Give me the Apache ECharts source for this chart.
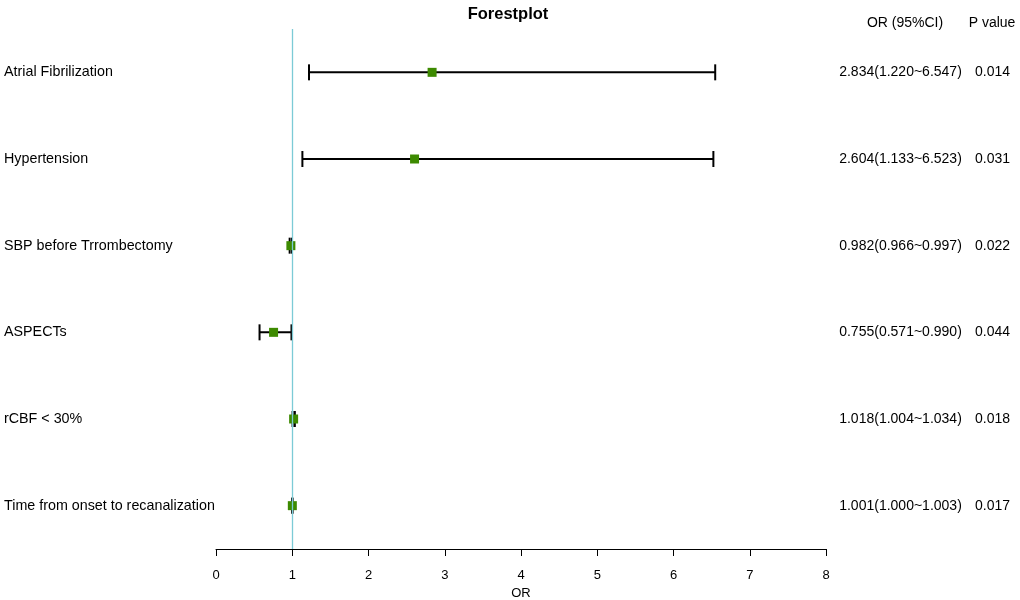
<!DOCTYPE html>
<html><head><meta charset="utf-8">
<script src="https://cdn.jsdelivr.net/npm/echarts@6/dist/echarts.min.js"></script>
<style>html,body{margin:0;padding:0;background:#fff}#c{width:1020px;height:600px}</style>
</head><body><div id="c"></div>
<script>
const variables = ['Atrial Fibrilization','Hypertension','SBP before Trrombectomy','ASPECTs','rCBF < 30%','Time from onset to recanalization'];
const orValues = [2.834, 2.604, 0.982, 0.755, 1.018, 1.001];
const lowerCI = [1.220, 1.133, 0.966, 0.571, 1.004, 1.000];
const upperCI = [6.547, 6.523, 0.997, 0.990, 1.034, 1.003];
const orText = ['2.834(1.220~6.547)','2.604(1.133~6.523)','0.982(0.966~0.997)','0.755(0.571~0.990)','1.018(1.004~1.034)','1.001(1.000~1.003)'];
const pText = ['0.014','0.031','0.022','0.044','0.018','0.017'];
const xTicks = [0,1,2,3,4,5,6,7,8];

const FONT = '"Liberation Sans", Arial, sans-serif';
const chart = echarts.init(document.getElementById('c'));
chart.setOption({
  backgroundColor:'#fff',
  animation:false,
  title:{text:'Forestplot',left:503,top:1,textAlign:'center',textStyle:{fontFamily:FONT,fontSize:16.5,fontWeight:'bold',color:'#000'}},
  grid:{left:216,right:194,top:29,bottom:51,containLabel:false,outerBoundsMode:'none'},
  xAxis:{type:'value',min:xTicks[0],max:xTicks[xTicks.length-1],interval:1,
    name:'OR',nameLocation:'middle',nameGap:37,nameTextStyle:{fontFamily:FONT,fontSize:13,color:'#000'},
    axisLine:{show:true,onZero:false,lineStyle:{color:'#000',width:1}},
    axisTick:{show:true,length:7,lineStyle:{color:'#000'}},
    axisLabel:{fontFamily:FONT,fontSize:13,color:'#000',margin:20},
    splitLine:{show:false}},
  yAxis:{type:'category',data:variables,inverse:true,
    axisLine:{show:false},axisTick:{show:false},splitLine:{show:false},
    axisLabel:{align:'left',margin:212,fontFamily:FONT,fontSize:14.3,color:'#000'}},
  series:[
    {type:'custom',
     data:variables.map((v,i)=>[lowerCI[i],upperCI[i],i]),
     renderItem:function(params,api){
       const lo=api.coord([api.value(0),api.value(2)]);
       const hi=api.coord([api.value(1),api.value(2)]);
       const y=lo[1], h=8;
       const st={stroke:'#000',lineWidth:2};
       return {type:'group',children:[
         {type:'line',shape:{x1:lo[0],y1:y,x2:hi[0],y2:y},style:st},
         {type:'line',shape:{x1:lo[0],y1:y-h,x2:lo[0],y2:y+h},style:st},
         {type:'line',shape:{x1:hi[0],y1:y-h,x2:hi[0],y2:y+h},style:st}
       ]};
     },
     markLine:{silent:true,symbol:'none',label:{show:false},
       lineStyle:{color:'#7ccbd6',width:1.3,type:'solid'},
       data:[{xAxis:1}]},
     z:2},
    {type:'scatter',symbol:'rect',symbolSize:9,
     data:variables.map((v,i)=>[orValues[i],i]),
     itemStyle:{color:'#3d8a00',opacity:1},z:3},
    {type:'custom',
     data:variables.map((v,i)=>[0,i]),
     renderItem:function(params,api){
       const p=api.coord([0,api.value(1)]);
       const i=params.dataIndex;
       const s={fontFamily:FONT,fontSize:14,fill:'#000',verticalAlign:'middle'};
       return {type:'group',children:[
         {type:'text',style:Object.assign({},s,{x:900.5,y:p[1],text:orText[i],align:'center'})},
         {type:'text',style:Object.assign({},s,{x:992.5,y:p[1],text:pText[i],align:'center'})}
       ]};
     }}
  ],
  graphic:[
    {type:'text',style:{x:905,y:23,text:'OR (95%CI)',align:'center',verticalAlign:'middle',fontFamily:FONT,fontSize:14,fill:'#000'}},
    {type:'text',style:{x:992,y:23,text:'P value',align:'center',verticalAlign:'middle',fontFamily:FONT,fontSize:14,fill:'#000'}}
  ]
});
</script></body></html>
